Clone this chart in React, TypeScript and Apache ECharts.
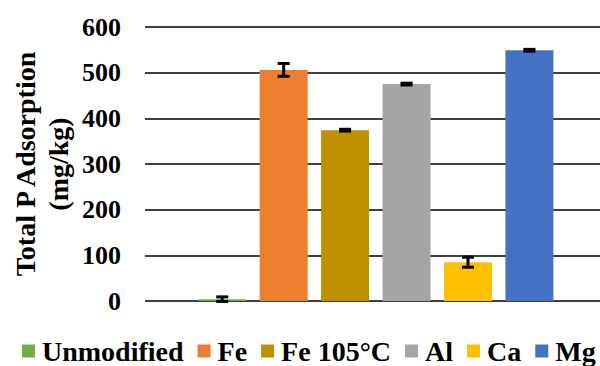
import React, { useEffect, useRef } from "react";
import * as echarts from "echarts";

const categories = ["Unmodified", "Fe", "Fe 105°C", "Al", "Ca", "Mg"];
const values = [4, 506, 374, 475, 85, 549];
const errors = [5, 14, 2, 2, 11, 2];
const colors = ["#70AD47", "#ED7D31", "#BF9000", "#A5A5A5", "#FFC000", "#4472C4"];
const yTicks = [0, 100, 200, 300, 400, 500, 600];

const FONT = "'Liberation Serif', 'Times New Roman', serif";

export default function App() {
  const ref = useRef<HTMLDivElement>(null);
  useEffect(() => {
    document.body.style.margin = "0";
    const chart = echarts.init(ref.current!, null, { renderer: "svg" });
    const barSeries = categories.map((name, i) => ({
      name,
      type: "bar",
      data: [[i, values[i]]],
      barWidth: 48,
      barGap: "-100%",
      itemStyle: { color: colors[i] },
      z: 2,
    }));
    const errData = categories.map((_, i) => [i, values[i], errors[i]]);
    chart.setOption({
      animation: false,
      grid: { left: 145, right: 0, top: 27, bottom: 65 },
      xAxis: {
        type: "value",
        min: -1.2575,
        max: 6.149,
        show: false,
        splitLine: { show: false },
      },
      yAxis: {
        type: "value",
        min: yTicks[0],
        max: yTicks[yTicks.length - 1],
        interval: 100,
        axisLine: { show: false },
        axisTick: { show: false },
        axisLabel: {
          margin: 24,
          color: "#000",
          fontSize: 26,
          fontWeight: "bold",
          fontFamily: FONT,
        },
        splitLine: { lineStyle: { color: "#000", width: 1.5 } },
      },
      legend: {
        data: categories,
        left: 22,
        top: 337,
        padding: 0,
        width: 1200,
        itemWidth: 13,
        itemHeight: 13,
        itemGap: 14,
        icon: "rect",
        textStyle: {
          color: "#000",
          fontSize: 28,
          fontWeight: "bold",
          fontFamily: FONT,
          padding: [0, 0, 0, 2],
        },
      },
      graphic: [
        {
          type: "text",
          x: 25,
          y: 164,
          rotation: Math.PI / 2,
          style: {
            text: "Total P Adsorption",
            align: "center",
            verticalAlign: "middle",
            fill: "#000",
            font: `bold 28px ${FONT}`,
          },
        },
        {
          type: "text",
          x: 58,
          y: 164,
          rotation: Math.PI / 2,
          style: {
            text: "(mg/kg)",
            align: "center",
            verticalAlign: "middle",
            fill: "#000",
            font: `bold 28px ${FONT}`,
          },
        },
      ],
      series: [
        ...barSeries,
        {
          type: "custom",
          name: "err",
          data: errData,
          z: 5,
          encode: { x: 0, y: 1 },
          renderItem: (params: any, api: any) => {
            const x = api.value(0);
            const v = api.value(1);
            const e = api.value(2);
            const top = api.coord([x, v + e]);
            const bot = api.coord([x, v - e]);
            const hw = 6;
            const st = { stroke: "#000", lineWidth: 3 };
            return {
              type: "group",
              children: [
                { type: "line", shape: { x1: top[0], y1: top[1], x2: bot[0], y2: bot[1] }, style: st },
                { type: "line", shape: { x1: top[0] - hw, y1: top[1], x2: top[0] + hw, y2: top[1] }, style: st },
                { type: "line", shape: { x1: bot[0] - hw, y1: bot[1], x2: bot[0] + hw, y2: bot[1] }, style: st },
              ],
            };
          },
        },
      ],
    });
    return () => chart.dispose();
  }, []);
  return <div ref={ref} style={{ width: 600, height: 366 }} />;
}
